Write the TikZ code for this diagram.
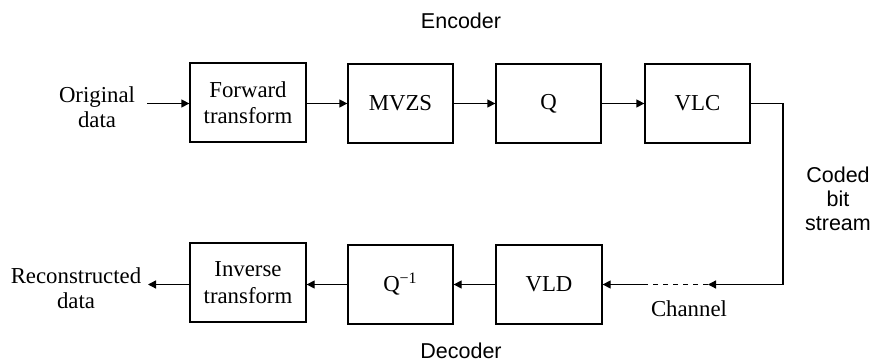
\documentclass[tikz,border=0pt]{standalone}
\usepackage{fontspec}
\setmainfont{Liberation Serif}
\newfontfamily\labsans{Liberation Sans}
\usetikzlibrary{arrows.meta}
\begin{document}
\begin{tikzpicture}[x=0.5pt,y=-0.5pt,
  line width=0.65pt,
  blk/.style={draw, rectangle, minimum height=39.5pt, inner sep=0pt, align=center,
    font=\fontsize{11.4}{13.2}\selectfont},
  wideblk/.style={blk, minimum width=58pt},
  narrowblk/.style={blk, minimum width=52.5pt},
  serlab/.style={align=center, inner sep=0pt, font=\fontsize{11.4}{12.6}\selectfont},
  sanslab/.style={align=center, inner sep=0pt, font=\labsans\fontsize{10.75}{12}\selectfont},
  arr/.style={-{Triangle[length=4pt,width=4pt]}},
  dashline/.style={dash pattern=on 2.5pt off 2.5pt}
]
\useasboundingbox (0,0) rectangle (873,362);
% top row
\node[wideblk]   (fwd) at (248,102.5) {Forward\\transform};
\node[narrowblk] (mvzs) at (400.5,103.5) {MVZS};
\node[narrowblk] (q) at (548.5,103.5) {Q};
\node[narrowblk] (vlc) at (697.5,103.5) {VLC};
% bottom row
\node[wideblk]   (inv) at (248,282.5) {Inverse\\transform};
\node[narrowblk] (qi) at (400.5,284.5) {Q\textsuperscript{−1}};
\node[narrowblk, minimum width=53pt] (vld) at (549,284.5) {VLD};
% labels
\node[serlab] (orig) at (97,107) {Original\\data};
\node[serlab] (rec) at (76,288) {Reconstructed\\data};
\node[serlab, anchor=base] (chan) at (689,317) {Channel};
\node[sanslab, anchor=base] (enc) at (461,29) {Encoder};
\node[sanslab, anchor=base] (dec) at (461,359) {Decoder};
\node[sanslab] (cbs) at (838,199) {Coded\\bit\\stream};
% coordinates
\coordinate (corner) at (783,103.5);
\coordinate (chR) at (708,284.5);
\coordinate (chL) at (645,284.5);
\coordinate (origout) at (147,103.5);
\coordinate (recin) at (148,284.5);
% connectors
\draw[arr] (origout) -- (fwd.west |- origout);
\draw[arr] (fwd.east |- mvzs) -- (mvzs.west);
\draw[arr] (mvzs) -- (q);
\draw[arr] (q) -- (vlc);
\draw[arr] (vlc.east) -- (corner) |- (chR);
\draw[dashline] (chR) -- (chL);
\draw[arr] (chL) -- (vld.east);
\draw[arr] (vld) -- (qi);
\draw[arr] (qi.west) -- (inv.east |- qi);
\draw[arr] (inv.west |- recin) -- (recin);
\end{tikzpicture}
\end{document}
